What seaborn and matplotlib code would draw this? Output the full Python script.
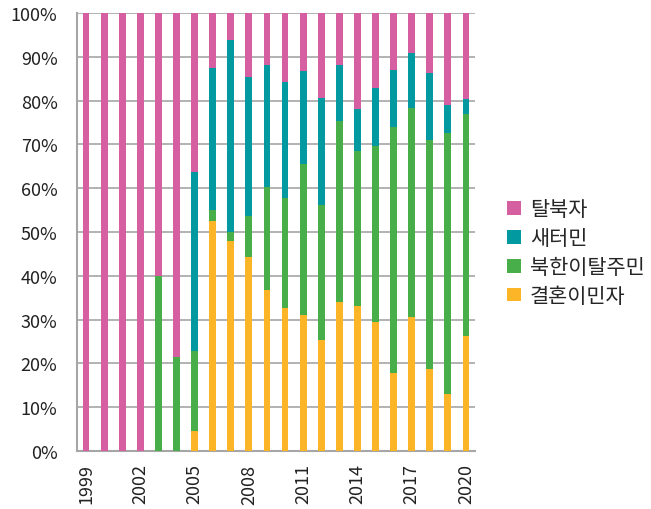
import numpy as np
import pandas as pd
import matplotlib
matplotlib.use("Agg")
import matplotlib.pyplot as plt
import seaborn as sns
from matplotlib.patches import Patch
from matplotlib.ticker import FixedLocator, PercentFormatter

years = list(range(1999, 2021))
marriage = [0, 0, 0, 0, 0, 0, 4.6, 52.6, 48.0, 44.4, 36.8, 32.6, 31.0, 25.3, 34.1, 33.0, 29.4, 17.7, 30.7, 18.7, 12.9, 26.3]
defector_nk = [0, 0, 0, 0, 40.0, 21.5, 18.3, 2.4, 2.1, 9.2, 23.4, 25.2, 34.5, 30.9, 41.2, 35.4, 40.2, 56.3, 47.6, 52.4, 59.6, 50.6]
saeteomin = [0, 0, 0, 0, 0, 0, 40.7, 32.4, 43.8, 31.9, 28.0, 26.4, 21.3, 24.4, 12.9, 9.6, 13.2, 13.0, 12.6, 15.3, 6.5, 3.4]
talbukja = [100, 100, 100, 100, 60.0, 78.5, 36.4, 12.6, 6.1, 14.5, 11.8, 15.8, 13.2, 19.4, 11.8, 22.0, 17.2, 13.0, 9.1, 13.6, 21.0, 19.7]

series_names = ["탈북자", "새터민", "북한이탈주민", "결혼이민자"]
colors = ["#D65FA1", "#0399A0", "#48AE49", "#FBB526"]

sns.set_style("white")
plt.rcParams["font.family"] = ["Noto Sans CJK KR", "DejaVu Sans"]

df = pd.DataFrame({"year": [str(y) for y in years],
                   "결혼이민자": marriage, "북한이탈주민": defector_nk,
                   "새터민": saeteomin, "탈북자": talbukja})
c1 = df["결혼이민자"]
c2 = c1 + df["북한이탈주민"]
c3 = c2 + df["새터민"]
c4 = c3 + df["탈북자"]
c4 = c4 / c4 * 100

fig = plt.figure(figsize=(6.51, 5.10), dpi=100)
ax = fig.add_axes([77 / 651, 1 - 452 / 510, 398 / 651, 438 / 510])

for cum, col in zip([c4, c3, c2, c1], colors):
    sns.barplot(x=df["year"], y=cum, color=col, width=0.38, ax=ax,
                saturation=1, zorder=3, linewidth=0)

ax.set_xlim(-0.5, len(years) - 0.5)
ax.set_ylim(0, 100)
ax.set_xlabel("")
ax.set_ylabel("")

gc = "#A6A6A6"
tc = "#222222"
ax.yaxis.set_major_locator(FixedLocator(np.arange(0, 101, 10)))
ax.yaxis.set_major_formatter(PercentFormatter(decimals=0))
ax.set_xticks(range(0, len(years), 3))
ax.set_xticklabels([str(years[i]) for i in range(0, len(years), 3)], rotation=90)
ax.xaxis.set_minor_locator(FixedLocator(np.arange(-0.5, len(years), 1.0)))
ax.tick_params(axis="x", which="major", length=0, labelsize=13, pad=9, labelcolor=tc)
ax.tick_params(axis="x", which="minor", length=6, width=1.2, color=gc, direction="out")
ax.tick_params(axis="y", which="major", length=8, width=1.2, color=gc, labelsize=13,
               labelcolor=tc, pad=6)
ax.grid(axis="y", which="major", color=gc, linewidth=1.2, zorder=0)
ax.grid(axis="x", visible=False)
ax.set_axisbelow(True)
for s in ["top", "right"]:
    ax.spines[s].set_visible(False)
for s in ["left", "bottom"]:
    ax.spines[s].set_color(gc)
    ax.spines[s].set_linewidth(1.5)

handles = [Patch(facecolor=c, edgecolor="none") for c in colors]
fig.legend(handles, series_names, loc="center left", bbox_to_anchor=(0.750, 0.503),
           frameon=False, fontsize=15, handlelength=0.65, handleheight=0.65,
           handletextpad=0.45, labelspacing=0.33)

fig.savefig("out.png", dpi=100)
